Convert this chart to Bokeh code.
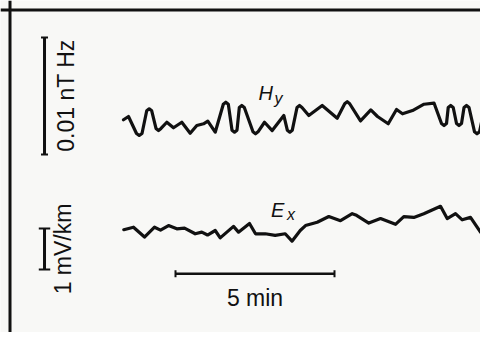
import math
from bokeh.plotting import figure
from bokeh.models import Range1d, Label, Span
from bokeh.embed import file_html
from bokeh.resources import INLINE

# ---- data (time in minutes) ----
hy_time = [0.000, 0.157, 0.409, 0.494, 0.582, 0.730, 0.808, 0.887, 1.022, 1.101,
           1.179, 1.362, 1.572, 1.833, 2.097, 2.305, 2.516, 2.651, 2.884, 3.138,
           3.217, 3.296, 3.412, 3.491, 3.569, 3.642, 3.720, 3.799, 4.072, 4.151,
           4.230, 4.434, 4.676, 5.041, 5.151, 5.230, 5.308, 5.456, 5.535, 5.613,
           5.827, 6.248, 6.720, 6.956, 7.035, 7.113, 7.453, 7.777, 7.987, 8.324,
           8.585, 8.774, 9.088, 9.450, 9.764, 10.000, 10.079, 10.157, 10.211, 10.289,
           10.368, 10.472, 10.550, 10.629, 10.708, 10.786, 10.865, 11.038, 11.116, 11.195,
           11.368, 11.541]
# Hy in pT Hz (0.01 nT Hz = 10 pT Hz)
hy_value = [-0.11, 0.17, -1.28, -1.45, -1.28, 0.66, 0.83, 0.66, -0.85, -1.03,
            -0.85, -0.32, -0.79, -0.32, -1.26, -0.60, -0.45, -0.23, -1.17, 1.22,
            1.39, 1.22, -1.00, -1.17, -1.00, 0.94, 1.11, 0.94, -1.14, -1.31,
            -1.14, -0.32, -1.03, 0.26, -1.00, -1.17, -1.00, 0.94, 1.11, 0.94,
            0.26, 1.11, 0.02, 1.26, 1.44, 1.26, -0.21, 0.73, 0.17, -0.45,
            0.77, 0.40, 0.68, 1.22, 1.32, -0.43, -0.60, -0.43, 0.94, 1.11,
            0.94, -0.43, -0.60, -0.43, 0.94, 1.11, 0.94, -1.14, -1.31, -1.14,
            1.11, 0.34]

ex_time = [0.009, 0.314, 0.660, 0.975, 1.164, 1.415, 1.676, 1.918, 2.255, 2.462,
           2.642, 2.884, 3.041, 3.459, 3.616, 3.962, 4.151, 4.456, 4.770, 5.085,
           5.299, 5.557, 5.723, 6.091, 6.456, 6.824, 7.192, 7.327, 7.714, 8.082,
           8.553, 8.814, 9.129, 9.443, 9.969, 10.179, 10.440, 10.651, 10.912, 11.226,
           11.437, 11.541]
# Ex in mV/km
ex_value = [0.02, 0.08, -0.16, 0.08, 0.01, 0.12, 0.04, 0.06, -0.08, -0.04,
            -0.11, 0.00, -0.18, 0.10, -0.04, 0.17, -0.08, -0.08, -0.12, -0.08,
            -0.26, 0.00, 0.12, 0.20, 0.34, 0.24, 0.41, 0.37, 0.18, 0.29,
            0.15, 0.34, 0.32, 0.41, 0.59, 0.29, 0.41, 0.26, 0.32, -0.04,
            0.24, 0.29]

hy_bar_length = 10.0   # pT Hz  (0.01 nT Hz)
ex_bar_length = 1.0    # mV/km
time_bar_length = 5.0  # min

hy_label = "0.01 nT Hz"
ex_label = "1 mV/km"
time_label = "5 min"

# ---- figure ----
INK = "#111111"
BG = "#f8f8f6"
FONT = "Liberation Sans"

p = figure(width=480, height=332, output_backend="svg", toolbar_location=None,
           x_axis_type=None, y_axis_type=None, min_border=0,
           x_range=Range1d(-3.868, 11.226), y_range=Range1d(-18.291, 10.085))
p.extra_y_ranges = {"ex": Range1d(-2.488, 5.610)}
p.grid.visible = False
p.outline_line_color = None
p.background_fill_color = BG
p.border_fill_color = BG

# frame (left and top edges only visible)
p.add_layout(Span(location=-3.569, dimension="height", line_color=INK, line_width=3))
p.add_layout(Span(location=9.274, dimension="width", line_color=INK, line_width=3))

# traces
p.line(hy_time, hy_value, line_width=3.2, line_color=INK, line_join="round", line_cap="round")
p.line(ex_time, ex_value, line_width=3.2, line_color=INK, line_join="round", line_cap="round",
       y_range_name="ex")

# Hy scale bar
hx = -2.484
hy0 = -3.077
p.segment(x0=[hx], y0=[hy0], x1=[hx], y1=[hy0 + hy_bar_length], line_width=3, line_color=INK)
p.segment(x0=[hx - 0.11, hx - 0.11], y0=[hy0, hy0 + hy_bar_length],
          x1=[hx + 0.11, hx + 0.11], y1=[hy0, hy0 + hy_bar_length], line_width=2, line_color=INK)

# Ex scale bar
ex0 = -0.951
p.segment(x0=[hx], y0=[ex0], x1=[hx], y1=[ex0 + ex_bar_length], line_width=3, line_color=INK,
          y_range_name="ex")
p.segment(x0=[hx - 0.18, hx - 0.18], y0=[ex0, ex0 + ex_bar_length],
          x1=[hx + 0.18, hx + 0.18], y1=[ex0, ex0 + ex_bar_length], line_width=2, line_color=INK,
          y_range_name="ex")

# time bar
t0 = 1.635
ty = -13.27
p.segment(x0=[t0], y0=[ty], x1=[t0 + time_bar_length], y1=[ty], line_width=2.5, line_color=INK)
p.segment(x0=[t0, t0 + time_bar_length], y0=[ty - 0.3, ty - 0.3],
          x1=[t0, t0 + time_bar_length], y1=[ty + 0.3, ty + 0.3], line_width=2, line_color=INK)

# labels
p.add_layout(Label(x=-1.808, y=1.966, text=hy_label, angle=math.pi / 2,
                   text_font=FONT, text_font_size="23px", text_color=INK,
                   text_align="center", text_baseline="middle"))
p.add_layout(Label(x=-1.902, y=-0.451, text=ex_label, angle=math.pi / 2, y_range_name="ex",
                   text_font=FONT, text_font_size="23px", text_color=INK,
                   text_align="center", text_baseline="middle"))
p.add_layout(Label(x=4.135, y=-15.385, text=time_label,
                   text_font=FONT, text_font_size="23px", text_color=INK,
                   text_align="center", text_baseline="alphabetic"))

p.add_layout(Label(x=4.245, y=2.137, text="H", text_font=FONT, text_font_size="20px",
                   text_font_style="italic", text_color=INK, text_align="left",
                   text_baseline="alphabetic"))
p.add_layout(Label(x=4.748, y=1.709, text="y", text_font=FONT, text_font_size="16px",
                   text_font_style="italic", text_color=INK, text_align="left",
                   text_baseline="alphabetic"))
p.add_layout(Label(x=4.640, y=0.500, text="E", y_range_name="ex", text_font=FONT,
                   text_font_size="20px", text_font_style="italic", text_color=INK,
                   text_align="left", text_baseline="alphabetic"))
p.add_layout(Label(x=5.142, y=0.390, text="x", y_range_name="ex", text_font=FONT,
                   text_font_size="16px", text_font_style="italic", text_color=INK,
                   text_align="left", text_baseline="alphabetic"))

open("out.html", "w").write(file_html(p, INLINE))
